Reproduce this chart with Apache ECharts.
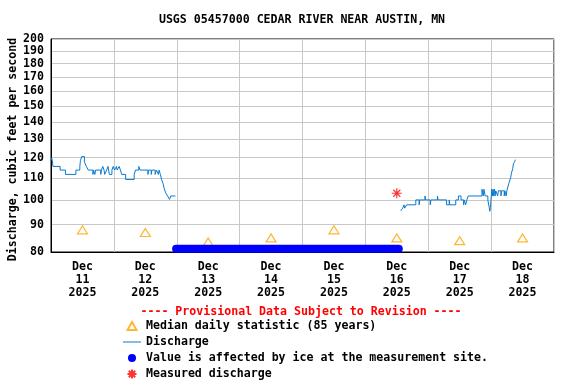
<!DOCTYPE html>
<html>
<head>
<meta charset="utf-8">
<script src="https://cdn.jsdelivr.net/npm/echarts@6/dist/echarts.min.js"></script>
<style>
html,body{margin:0;padding:0;background:#fff;}
#chart{width:576px;height:384px;}
</style>
</head>
<body>
<div id="chart"></div>
<script>
const titleText = 'USGS 05457000 CEDAR RIVER NEAR AUSTIN, MN';
const provisionalText = '---- Provisional Data Subject to Revision ----';
const yAxisName = 'Discharge, cubic feet per second';
const yTicks = [80, 90, 100, 110, 120, 130, 140, 150, 160, 170, 180, 190, 200];
const xMin = '2025-12-11 00:00';
const xMax = '2025-12-19 00:00';
const xLabelTexts = ['Dec\n11\n2025', 'Dec\n12\n2025', 'Dec\n13\n2025', 'Dec\n14\n2025',
  'Dec\n15\n2025', 'Dec\n16\n2025', 'Dec\n17\n2025', 'Dec\n18\n2025'];

const medianName = 'Median daily statistic (85 years)';
const medianTimes = ['2025-12-11 12:00', '2025-12-12 12:00', '2025-12-13 12:00', '2025-12-14 12:00',
  '2025-12-15 12:00', '2025-12-16 12:00', '2025-12-17 12:00', '2025-12-18 12:00'];
const medianValues = [88, 87, 83.5, 85, 88, 85, 84, 85];

const dischargeName = 'Discharge';
const discharge1Times = [
  '2025-12-11 00:00','2025-12-11 00:15','2025-12-11 00:30','2025-12-11 00:45','2025-12-11 03:30',
  '2025-12-11 05:30','2025-12-11 09:30','2025-12-11 11:00','2025-12-11 11:15','2025-12-11 11:45',
  '2025-12-11 12:45','2025-12-11 13:30','2025-12-11 14:15','2025-12-11 16:00','2025-12-11 16:15',
  '2025-12-11 16:45','2025-12-11 17:00','2025-12-11 19:00','2025-12-11 19:15','2025-12-11 19:45',
  '2025-12-11 20:15','2025-12-11 20:30','2025-12-11 21:15','2025-12-11 21:45','2025-12-11 22:00',
  '2025-12-11 22:15','2025-12-11 23:15','2025-12-11 23:45','2025-12-12 00:15','2025-12-12 01:00',
  '2025-12-12 01:15','2025-12-12 02:00','2025-12-12 02:30','2025-12-12 03:00','2025-12-12 04:30',
  '2025-12-12 07:45','2025-12-12 08:15','2025-12-12 09:30','2025-12-12 10:00','2025-12-12 13:00',
  '2025-12-12 13:15','2025-12-12 14:15','2025-12-12 14:30','2025-12-12 15:45','2025-12-12 16:15',
  '2025-12-12 17:00','2025-12-12 17:15','2025-12-12 17:45','2025-12-12 18:15','2025-12-12 18:45',
  '2025-12-12 19:15','2025-12-12 19:45','2025-12-12 20:30','2025-12-12 21:15','2025-12-12 21:45',
  '2025-12-12 23:30'];
const discharge1Values = [
  118.7, 120, 118.7, 115.6, 113.8,
  111.7, 113.8, 115.6, 118.7, 120.6,
  117.9, 115.6, 113.8, 111.7, 113.8,
  111.7, 113.8, 111.7, 113.8, 115.6,
  113.8, 111.7, 113.8, 115.6, 113.8,
  111.7, 113.8, 115.6, 113.8, 115.6,
  113.8, 115.6, 113.8, 111.7, 109.3,
  111.7, 113.8, 115.6, 113.8, 111.7,
  113.8, 111.7, 113.8, 111.7, 113.8,
  111.7, 113.8, 111.7, 109.1, 107.5,
  105, 103.2, 101.8, 100.3, 101.8,
  101.8];
const discharge2Times = [
  '2025-12-16 13:30','2025-12-16 14:15','2025-12-16 14:45','2025-12-16 15:00','2025-12-16 15:45',
  '2025-12-16 19:15','2025-12-16 20:30','2025-12-16 20:45','2025-12-16 22:45','2025-12-16 23:00',
  '2025-12-17 00:45','2025-12-17 01:00','2025-12-17 03:30','2025-12-17 03:45','2025-12-17 07:00',
  '2025-12-17 08:00','2025-12-17 08:15','2025-12-17 10:30','2025-12-17 11:30','2025-12-17 12:30',
  '2025-12-17 13:30','2025-12-17 13:45','2025-12-17 14:15','2025-12-17 14:45','2025-12-17 15:15',
  '2025-12-17 20:30','2025-12-17 21:00','2025-12-17 21:15','2025-12-17 21:45','2025-12-17 22:45',
  '2025-12-17 23:15','2025-12-17 23:30','2025-12-17 23:45','2025-12-18 00:15','2025-12-18 00:30',
  '2025-12-18 00:45','2025-12-18 01:00','2025-12-18 01:15','2025-12-18 01:30','2025-12-18 01:45',
  '2025-12-18 02:30','2025-12-18 02:45','2025-12-18 03:45','2025-12-18 04:00','2025-12-18 05:00',
  '2025-12-18 05:15','2025-12-18 05:45','2025-12-18 06:00','2025-12-18 06:45','2025-12-18 07:30',
  '2025-12-18 07:45','2025-12-18 08:15','2025-12-18 08:30','2025-12-18 09:00','2025-12-18 09:15'];
const discharge2Values = [
  95.5, 96.6, 98, 96.6, 98,
  100.1, 98, 100.1, 101.8, 100.1,
  98, 100.1, 101.8, 100.1, 98,
  100.1, 98, 100.1, 101.8, 100.1,
  98, 100.1, 98, 100.1, 101.8,
  104.8, 101.8, 104.8, 101.8, 100,
  97, 95.3, 97, 104.8, 101.8,
  104.8, 101.8, 104.8, 101.8, 104.1,
  101.8, 104.1, 101.8, 104.1, 101.8,
  104.1, 101.8, 104.1, 107.5, 110.4,
  112.3, 114.5, 116.9, 118, 119];

const iceName = 'Value is affected by ice at the measurement site.';
const iceTimes = ['2025-12-12 23:45', '2025-12-16 12:45'];
const iceValues = [81.1, 81.1];

const measuredName = 'Measured discharge';
const measuredTimes = ['2025-12-16 12:00'];
const measuredValues = [103];

const FONT = 'DejaVu Sans Mono';
const FS = 11.6;
const asterisk = 'path://M5,0L5,10M0,5L10,5M1.5,1.5L8.5,8.5M8.5,1.5L1.5,8.5';
// legend icons drawn inside an 18x10 box (stray moveTo points fix the box)
const iconTriangle = 'path://M0,0M18,10M9,1L13.5,9L4.5,9Z';
const iconLine = 'path://M0,0M18,10M0,4.5L18,4.5L18,5.5L0,5.5Z';
const iconDot = 'path://M0,0M18,10M13,5A4,4,0,1,1,5,5A4,4,0,1,1,13,5Z';
const iconAsterisk = 'path://M0,0M18,10M9,0.5L9,9.5M4.5,5L13.5,5M5.8,1.8L12.2,8.2M12.2,1.8L5.8,8.2';

function pairs(t, v) { return t.map((x, i) => [x, v[i]]); }

const chart = echarts.init(document.getElementById('chart'), null, {renderer: 'canvas'});
chart.setOption({
  animation: false,
  backgroundColor: '#fff',
  title: [
    {text: titleText, left: 302, top: 14, textAlign: 'center', padding: 0,
     textStyle: {fontFamily: FONT, fontWeight: 'bold', fontSize: FS, color: '#000'}},
    {text: provisionalText, left: 301, top: 306, textAlign: 'center', padding: 0,
     textStyle: {fontFamily: FONT, fontWeight: 'bold', fontSize: FS, color: '#ff0000'}}
  ],
  grid: {left: 51, right: 22, top: 39, bottom: 132, show: true, borderColor: '#000', borderWidth: 1,
         outerBoundsMode: 'none', containLabel: false},
  legend: {
    orient: 'vertical', left: 122, top: 318, height: 66, padding: 0,
    itemWidth: 18, itemHeight: 10, itemGap: 0,
    selectedMode: false,
    textStyle: {fontFamily: FONT, fontWeight: 'bold', fontSize: FS, color: '#000', lineHeight: 16},
    data: [
      {name: medianName, icon: iconTriangle},
      {name: dischargeName, icon: iconLine},
      {name: iceName, icon: iconDot},
      {name: measuredName, icon: iconAsterisk}
    ]
  },
  xAxis: [
    {
      type: 'time', min: xMin, max: xMax, interval: 86400000,
      axisLine: {show: true, lineStyle: {color: '#000', width: 1}},
      axisTick: {show: false},
      axisLabel: {show: false},
      splitLine: {show: true, lineStyle: {color: '#c8c8c8', width: 1}}
    },
    {
      type: 'category', data: xLabelTexts, boundaryGap: true, position: 'bottom',
      axisLine: {show: false}, axisTick: {show: false}, splitLine: {show: false},
      axisLabel: {fontFamily: FONT, fontWeight: 'bold', fontSize: FS, color: '#000',
        lineHeight: 12.7, margin: 9, interval: 0}
    }
  ],
  yAxis: {
    type: 'log', logBase: 10, min: 80, max: 200,
    name: yAxisName, nameLocation: 'middle', nameRotate: 90, nameGap: 32, nameMoveOverlap: false,
    nameTextStyle: {fontFamily: FONT, fontWeight: 'bold', fontSize: FS, color: '#000', padding: [0, 8, 0, 0]},
    axisLine: {show: true, lineStyle: {color: '#000', width: 1}},
    axisTick: {show: false, customValues: yTicks},
    splitLine: {show: true, lineStyle: {color: '#c8c8c8', width: 1}},
    axisLabel: {
      customValues: yTicks, margin: 7,
      fontFamily: FONT, fontWeight: 'bold', fontSize: FS, color: '#000',
      formatter: function (v) { return String(Math.round(v)); }
    }
  },
  series: [
    {name: medianName, type: 'scatter', data: pairs(medianTimes, medianValues),
     symbol: 'triangle', symbolSize: [10, 8],
     itemStyle: {color: '#fff', borderColor: '#ffa500', borderWidth: 1.2}, z: 3},
    {name: dischargeName, type: 'line', data: pairs(discharge1Times, discharge1Values), step: 'end',
     symbol: 'none', showSymbol: false, lineStyle: {color: '#0a7ad0', width: 1}, itemStyle: {color: '#0a7ad0'}, z: 4},
    {name: dischargeName, type: 'line', data: pairs(discharge2Times, discharge2Values), step: 'end',
     symbol: 'none', showSymbol: false, lineStyle: {color: '#0a7ad0', width: 1}, itemStyle: {color: '#0a7ad0'}, z: 4},
    {name: iceName, type: 'line', data: pairs(iceTimes, iceValues), symbol: 'none', showSymbol: false,
     clip: false, lineStyle: {color: '#0000ff', width: 8, cap: 'round'}, itemStyle: {color: '#0000ff'}, z: 5},
    {name: measuredName, type: 'scatter', data: pairs(measuredTimes, measuredValues),
     symbol: asterisk, symbolSize: 10,
     itemStyle: {color: 'rgba(0,0,0,0)', borderColor: '#ff0000', borderWidth: 1.2}, z: 6}
  ]
});
</script>
</body>
</html>
